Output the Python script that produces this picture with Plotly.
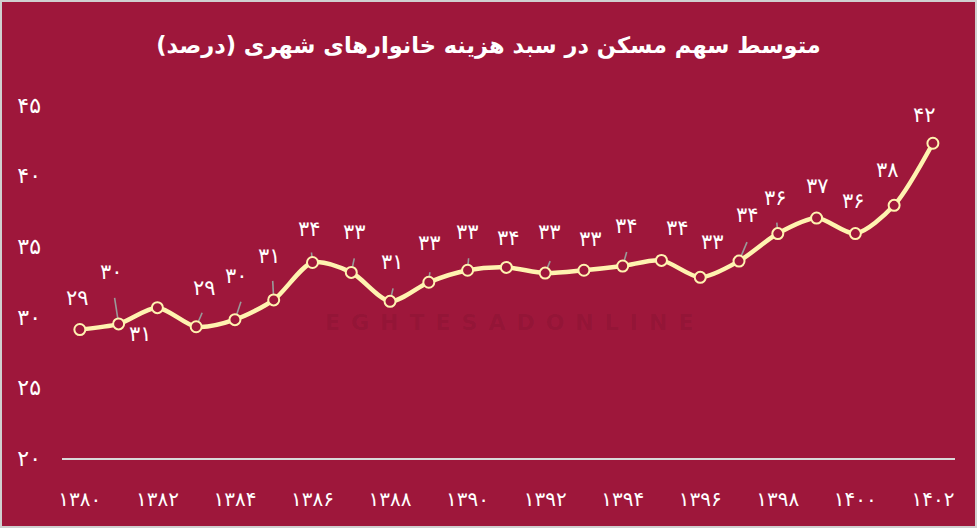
import plotly.graph_objects as go

years = list(range(1380, 1403))
values = [29.1, 29.5, 30.65, 29.3, 29.8, 31.2, 33.85, 33.15, 31.1, 32.45, 33.3, 33.5,
          33.1, 33.3, 33.6, 34.0, 32.8, 33.95, 35.9, 37.0, 35.9, 37.9, 42.3]
labels = ["۲۹", "۳۰", "۳۱", "۲۹", "۳۰", "۳۱", "۳۴", "۳۳", "۳۱", "۳۳", "۳۳", "۳۴",
          "۳۳", "۳۳", "۳۴", "۳۴", "۳۳", "۳۴", "۳۶", "۳۷", "۳۶", "۳۸", "۴۲"]
x_tick_vals = [1380, 1382, 1384, 1386, 1388, 1390, 1392, 1394, 1396, 1398, 1400, 1402]
x_tick_text = ["۱۳۸۰", "۱۳۸۲", "۱۳۸۴", "۱۳۸۶", "۱۳۸۸", "۱۳۹۰", "۱۳۹۲", "۱۳۹۴",
               "۱۳۹۶", "۱۳۹۸", "۱۴۰۰", "۱۴۰۲"]
y_tick_vals = [20, 25, 30, 35, 40, 45]
y_tick_text = ["۲۰", "۲۵", "۳۰", "۳۵", "۴۰", "۴۵"]
title = "متوسط سهم مسکن در سبد هزینه خانوارهای شهری (درصد)"
watermark = "EGHTESADONLINE"

# styling: label offsets (px, screen) and leader-line end offsets (px, screen), None = no leader
label_offsets = [(-2, -32), (-7, -52), (-17, 26), (8, -39), (2, -44), (-4, -44), (-3, -34),
                 (3, -40), (2, -39), (1, -39), (0, -38), (2, -29), (4, -41), (7, -31),
                 (4, -40), (16, -32), (12, -35), (8, -46), (-2, -36), (1, -32), (-2, -33),
                 (-7, -35), (-8, -28)]
leader_offsets = [None, (-4, -26), None, (6, -14), (6, -18), (-1, -19), (-1, -10),
                  (3, -14), (3, -13), (1, -10), (1, -12), None, (5, -12), None,
                  (4, -14), None, None, (8, -19), (-1, -11), None, None, None, None]

BG = "#9E173B"
LINE = "#FFF3B0"
FONT = "DejaVu Sans"

W, H = 977, 528
ML, MR, MT, MB = 62, 22, 91, 70
PW, PH = W - ML - MR, H - MT - MB

fig = go.Figure()

shapes = [dict(type="rect", xref="paper", yref="paper",
               x0=-ML / PW, x1=1 + MR / PW, y0=-MB / PH, y1=1 + MT / PH,
               layer="above", line=dict(width=4, color="#d0d0d0"))]
for yr, v, ld in zip(years, values, leader_offsets):
    if ld is not None:
        shapes.append(dict(type="line", xref="x", yref="y", xsizemode="pixel", ysizemode="pixel",
                           xanchor=yr, yanchor=v, x0=0, y0=0, x1=ld[0], y1=-ld[1],
                           layer="below", line=dict(color="#9a9a9a", width=1.6)))

fig.add_trace(go.Scatter(
    x=years, y=values, mode="lines+markers",
    line=dict(color=LINE, width=4.5, shape="spline", smoothing=0.8),
    marker=dict(size=11, color=BG, line=dict(color=LINE, width=2)),
    hoverinfo="skip", showlegend=False,
))

annotations = []
# watermark
annotations.append(dict(xref="paper", yref="paper", x=0.5, y=0.37,
                        text="<b>" + "\u2002".join(watermark) + "</b>",
                        showarrow=False, font=dict(family="DejaVu Sans", size=22, color="rgba(0,0,0,0.08)")))

for yr, v, lab, lo in zip(years, values, labels, label_offsets):
    annotations.append(dict(x=yr, y=v, xref="x", yref="y", text=lab, showarrow=False,
                            xshift=lo[0], yshift=-lo[1],
                            font=dict(family=FONT, size=21, color="white")))

fig.update_layout(
    width=W, height=H,
    paper_bgcolor=BG, plot_bgcolor=BG,
    margin=dict(l=ML, r=MR, t=MT, b=MB),
    title=dict(text="<b>" + title + "</b>", x=0.5, xanchor="center", y=0.915, yanchor="middle",
               font=dict(family=FONT, size=22.5, color="white")),
    xaxis=dict(range=[1379.54, 1402.57], tickvals=x_tick_vals, ticktext=x_tick_text,
               showgrid=False, zeroline=False, showline=True, linecolor="#d9d9d9", linewidth=2,
               ticks="", tickfont=dict(family=FONT, size=20, color="white"), ticklabelstandoff=22),
    yaxis=dict(range=[20, 46], tickvals=y_tick_vals, ticktext=y_tick_text,
               showgrid=False, zeroline=False, showline=False, ticks="",
               tickfont=dict(family=FONT, size=22, color="white"), ticklabelstandoff=20),
    annotations=annotations,
    shapes=shapes,
)

fig.write_html("out.html", config={"displayModeBar": False},
               post_script="document.body.style.margin='0';")
